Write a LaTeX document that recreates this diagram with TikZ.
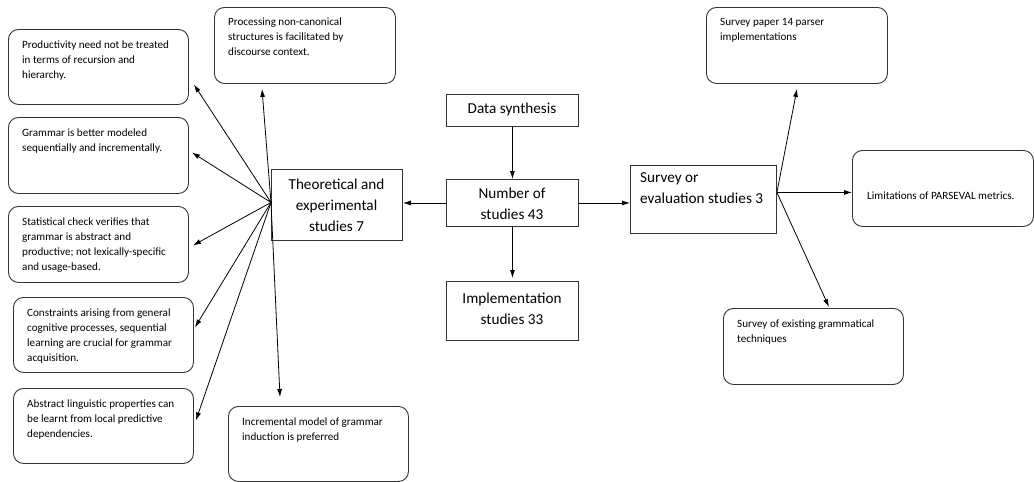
\documentclass[tikz,border=0pt]{standalone}
\usepackage{fontspec}
\setmainfont{Carlito}
\usetikzlibrary{arrows.meta}
\tikzset{
  note/.style={draw=black!80, line width=0.9pt, rounded corners=10pt, anchor=north west, inner sep=0pt},
  sq/.style={draw=black!80, line width=0.9pt, anchor=north west, inner sep=0pt},
  small/.style={anchor=north west, inner sep=0pt, align=left, text=black, font=\fontsize{11.1}{15}\selectfont},
  big/.style={align=center, inner sep=0pt, text=black, font=\fontsize{15.2}{21}\selectfont},
  arr/.style={line width=0.8pt, -{Latex[length=8pt,width=5pt]}}
}
\begin{document}
\begin{tikzpicture}[x=1pt,y=-1pt]
\useasboundingbox (0,0) rectangle (1034,482);
% left column of notes
\node[note, minimum width=180pt, minimum height=75pt] (prod) at (8,29) {};
\node[small] (prodt) at (22,41) {Productivity need not be treated\\in terms of recursion and\\hierarchy.};
\node[note, minimum width=180pt, minimum height=76pt] (gram) at (8,117) {};
\node[small] (gramt) at (22,129) {Grammar is better modeled\\sequentially and incrementally.};
\node[note, minimum width=180pt, minimum height=76pt] (stat) at (8,206) {};
\node[small] (statt) at (22,218) {Statistical check verifies that\\grammar is abstract and\\productive; not lexically-specific\\and usage-based.};
\node[note, minimum width=180pt, minimum height=75pt] (cons) at (13,297) {};
\node[small] (const) at (27,309) {Constraints arising from general\\cognitive processes, sequential\\learning are crucial for grammar\\acquisition.};
\node[note, minimum width=180pt, minimum height=75pt] (abst) at (13,388) {};
\node[small] (abstt) at (27,400) {Abstract linguistic properties can\\be learnt from local predictive\\dependencies.};
% top and bottom notes of the theoretical branch
\node[note, minimum width=181pt, minimum height=76pt] (proc) at (214,7) {};
\node[small] (proct) at (228,18) {Processing non-canonical\\structures is facilitated by\\discourse context.};
\node[note, minimum width=180pt, minimum height=75pt] (incr) at (228,406) {};
\node[small] (incrt) at (242,418) {Incremental model of grammar\\induction is preferred};
% central boxes
\node[sq, minimum width=131pt, minimum height=71pt] (theo) at (271,169) {};
\node[big] (theot) at (336.5,205) {Theoretical and\\experimental\\studies 7};
\node[sq, minimum width=132pt, minimum height=32pt] (data) at (446,94) {};
\node[big] (datat) at (512,109.5) {Data synthesis};
\node[sq, minimum width=132pt, minimum height=47pt] (numb) at (446,179) {};
\node[big] (numbt) at (512,204) {Number of\\studies 43};
\node[sq, minimum width=132pt, minimum height=59pt] (impl) at (446,281) {};
\node[big] (implt) at (512,309) {Implementation\\studies 33};
\node[sq, minimum width=146pt, minimum height=68pt] (surv) at (630,165) {};
\node[big, anchor=north west, align=left] (survt) at (640,172) {Survey or\\evaluation studies 3};
% right notes
\node[note, minimum width=181pt, minimum height=76pt] (spap) at (706,7) {};
\node[small] (spapt) at (720,18) {Survey paper 14 parser\\implementations};
\node[note, minimum width=181pt, minimum height=76pt] (lim) at (852,150) {};
\node[small, anchor=west] (limt) at (867,196) {Limitations of PARSEVAL metrics.};
\node[note, minimum width=180pt, minimum height=76pt] (sexi) at (723,308) {};
\node[small] (sexit) at (737,320) {Survey of existing grammatical\\techniques};
% connectors
\coordinate (th) at ([yshift=2.5pt]theo.west);
\coordinate (sh) at ([yshift=7pt]surv.east);
\draw[arr] (data.south) -- (numb.north);
\draw[arr] (numb.south) -- ([yshift=3pt]impl.north);
\draw[arr] (numb.west) -- (numb.west -| theo.east);
\draw[arr] (numb.east) -- (numb.east -| surv.west);
\draw[arr] (th) -- ([xshift=5pt,yshift=-17.5pt]prod.east);
\draw[arr] (th) -- ([xshift=48pt,yshift=-5pt]proc.south west);
\draw[arr] (th) -- ([xshift=3pt,yshift=3pt]gram.east);
\draw[arr] (th) -- ([xshift=4pt,yshift=-1pt]stat.east);
\draw[arr] (th) -- ([xshift=1pt,yshift=7.5pt]cons.east);
\draw[arr] (th) -- ([xshift=2pt,yshift=5.5pt]abst.east);
\draw[arr] (th) -- ([xshift=52pt,yshift=9pt]incr.north west);
\draw[arr] (sh) -- ([xshift=91pt,yshift=-5pt]spap.south west);
\draw[arr] (sh) -- (sh -| lim.west);
\draw[arr] (sh) -- ([xshift=106pt,yshift=1pt]sexi.north west);
\end{tikzpicture}
\end{document}
